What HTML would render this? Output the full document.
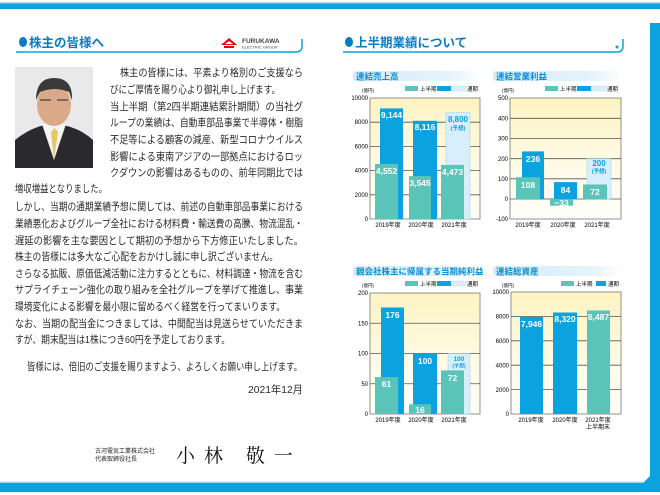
<!DOCTYPE html>
<html><head><meta charset="utf-8">
<style>
body{margin:0;width:660px;height:495px;overflow:hidden;background:#fff;position:relative;font-family:"Liberation Sans","Noto Sans CJK JP",sans-serif;color:#222}
svg{position:absolute;left:0;top:0}
</style></head><body>
<svg width="660" height="495" viewBox="0 0 660 495" font-family="Liberation Sans, Noto Sans CJK JP, sans-serif">
<defs>
<linearGradient id="yb" x1="0" y1="0" x2="0" y2="1"><stop offset="0" stop-color="#fdf3c2"/><stop offset="0.6" stop-color="#fefbe8"/><stop offset="1" stop-color="#fffef8"/></linearGradient>
<linearGradient id="tb" x1="0" y1="0" x2="1" y2="0"><stop offset="0" stop-color="#d3ebf8"/><stop offset="0.8" stop-color="#e6f4fb"/><stop offset="1" stop-color="#fff"/></linearGradient>
</defs>
<!-- frame -->
<rect x="0" y="3" width="660" height="6" fill="#0aa3e0"/>
<rect x="0" y="2" width="660" height="1.5" fill="#9fd8f2"/>
<rect x="650" y="23" width="10" height="462" fill="#0aa3e0"/>
<path d="M0 483 L643 483 L650 476 L650 483 L660 483 L660 492 L0 492Z" fill="#0aa3e0"/>
<rect x="0" y="481.5" width="643" height="1.5" fill="#9fd8f2"/>
<!-- headers -->
<path d="M16 52 L296 52 Q302 52 302 46 L302 39" stroke="#0aa3e0" stroke-width="1.5" fill="none"/>
<path d="M343 52 L617 52 Q623 52 623 46 L623 39" stroke="#0aa3e0" stroke-width="1.5" fill="none"/>
<ellipse cx="23" cy="42" rx="4" ry="5" fill="#0a7cc4"/>
<ellipse cx="349" cy="42" rx="4" ry="5" fill="#0a7cc4"/>
<circle cx="617" cy="47" r="1.5" fill="#0aa3e0"/>
<text x="29" y="47" font-size="12.5" font-weight="bold" fill="#0a7cc4">株主の皆様へ</text>
<text x="355" y="47" font-size="12.5" font-weight="bold" fill="#0a7cc4">上半期業績について</text>
<!-- logo -->
<path d="M221 45 L229 38 L237 45 Z M224 46 h10 v2 h-10z" fill="#e60012"/>
<path d="M225 44 L229 41 L233 44Z" fill="#fff"/>
<text x="242" y="43" font-size="6.5" font-weight="bold" fill="#444">FURUKAWA</text>
<text x="242" y="48.5" font-size="4" fill="#444">ELECTRIC GROUP</text>
<!-- photo -->
<rect x="15" y="67" width="78" height="101" fill="#e9e9e9"/>
<path d="M15 140 Q30 128 45 125 L62 125 Q80 128 93 140 L93 168 L15 168Z" fill="#2a2a2e"/>
<path d="M42 124 L54 160 L66 124Z" fill="#f4f4f4"/>
<path d="M51 132 L54 160 L58 132 L55 128Z" fill="#e8c860"/>
<ellipse cx="54" cy="105" rx="17" ry="21" fill="#d9a98a"/>
<path d="M36 100 Q36 78 54 78 Q73 78 72 100 L69 92 Q55 86 40 92Z" fill="#3a3a3a"/>
<path d="M40 100 h11 M57 100 h11" stroke="#555" stroke-width="1.5"/>

<!-- body text -->
<g font-size="10.5" fill="#2a2a2a" lengthAdjust="spacingAndGlyphs">
<text x="120" y="76" textLength="183" lengthAdjust="spacingAndGlyphs">株主の皆様には、平素より格別のご支援なら</text>
<text x="110" y="93" textLength="170" lengthAdjust="spacingAndGlyphs">びにご厚情を賜り心より御礼申し上げます。</text>
<text x="110" y="110" textLength="193" lengthAdjust="spacingAndGlyphs">当上半期（第2四半期連結累計期間）の当社グ</text>
<text x="110" y="126" textLength="193" lengthAdjust="spacingAndGlyphs">ループの業績は、自動車部品事業で半導体・樹脂</text>
<text x="110" y="143" textLength="193" lengthAdjust="spacingAndGlyphs">不足等による顧客の減産、新型コロナウイルス</text>
<text x="110" y="160" textLength="193" lengthAdjust="spacingAndGlyphs">影響による東南アジアの一部拠点におけるロッ</text>
<text x="110" y="176" textLength="193" lengthAdjust="spacingAndGlyphs">クダウンの影響はあるものの、前年同期比では</text>
<text x="15" y="192" textLength="92" lengthAdjust="spacingAndGlyphs">増収増益となりました。</text>
<text x="15" y="210" textLength="288" lengthAdjust="spacingAndGlyphs">しかし、当期の通期業績予想に関しては、前述の自動車部品事業における</text>
<text x="15" y="227" textLength="288" lengthAdjust="spacingAndGlyphs">業績悪化およびグループ全社における材料費・輸送費の高騰、物流混乱・</text>
<text x="15" y="244" textLength="288" lengthAdjust="spacingAndGlyphs">遅延の影響を主な要因として期初の予想から下方修正いたしました。</text>
<text x="15" y="260" textLength="263" lengthAdjust="spacingAndGlyphs">株主の皆様には多大なご心配をおかけし誠に申し訳ございません。</text>
<text x="15" y="277" textLength="288" lengthAdjust="spacingAndGlyphs">さらなる拡販、原価低減活動に注力するとともに、材料調達・物流を含む</text>
<text x="15" y="293" textLength="288" lengthAdjust="spacingAndGlyphs">サプライチェーン強化の取り組みを全社グループを挙げて推進し、事業</text>
<text x="15" y="310" textLength="270" lengthAdjust="spacingAndGlyphs">環境変化による影響を最小限に留めるべく経営を行ってまいります。</text>
<text x="15" y="327" textLength="288" lengthAdjust="spacingAndGlyphs">なお、当期の配当金につきましては、中間配当は見送らせていただきま</text>
<text x="15" y="343" textLength="215" lengthAdjust="spacingAndGlyphs">すが、期末配当は1株につき60円を予定しております。</text>
<text x="27" y="370" textLength="275" lengthAdjust="spacingAndGlyphs">皆様には、倍旧のご支援を賜りますよう、よろしくお願い申し上げます。</text>
<text x="248" y="393" textLength="55" lengthAdjust="spacingAndGlyphs">2021年12月</text>
</g>

<!-- signature -->
<text x="95" y="453" font-size="6" fill="#222">古河電気工業株式会社</text>
<text x="95" y="461" font-size="6" fill="#222">代表取締役社長</text>
<text x="176" y="462" font-size="19" font-family="Liberation Serif, Noto Serif CJK SC, serif" fill="#111" letter-spacing="9">小林 敬一</text>

<!-- CHART 1 -->
<rect x="353" y="71" width="127" height="10" rx="3" fill="url(#tb)"/>
<text x="356" y="79.5" font-size="8.5" font-weight="bold" fill="#0a8fd4">連結売上高</text>
<rect x="405" y="86" width="13" height="5" fill="#5bc4b8"/><text x="420" y="91" font-size="5.5">上半期</text>
<rect x="437" y="86" width="14" height="5" fill="#0aa3e0"/><rect x="451" y="86" width="15" height="5" fill="#d8eefb" stroke="#8fd0f0" stroke-width="0.5" stroke-dasharray="1,1"/><text x="467" y="91" font-size="5.5">通期</text>
<text x="362" y="92" font-size="4.5">(億円)</text>
<rect x="370" y="98" width="110" height="121" fill="url(#yb)" stroke="#777" stroke-width="0.8"/>
<g stroke="#555" stroke-width="0.8"><line x1="370" x2="480" y1="122.2" y2="122.2"/><line x1="370" x2="480" y1="146.4" y2="146.4"/><line x1="370" x2="480" y1="170.6" y2="170.6"/><line x1="370" x2="480" y1="194.8" y2="194.8"/></g>
<g font-size="6" text-anchor="end"><text x="368" y="100">10000</text><text x="368" y="124">8000</text><text x="368" y="148.5">6000</text><text x="368" y="172.5">4000</text><text x="368" y="197">2000</text><text x="368" y="221">0</text></g>
<rect x="380" y="108.4" width="23" height="110.6" fill="#0aa3e0"/><rect x="375" y="163.9" width="23" height="55.1" fill="#5bc4b8"/>
<rect x="413" y="120.8" width="24" height="98.2" fill="#0aa3e0"/><rect x="409" y="176.1" width="22" height="42.9" fill="#5bc4b8"/>
<rect x="446" y="112.5" width="24" height="106.5" fill="#d8eefb" stroke="#8fd0f0" stroke-width="0.8" stroke-dasharray="1.5,1"/><rect x="441" y="164.9" width="23" height="54.1" fill="#5bc4b8"/>
<g font-size="8.5" font-weight="bold" fill="#fff" text-anchor="middle"><text x="391.5" y="118">9,144</text><text x="386.5" y="174">4,552</text><text x="425" y="130">8,116</text><text x="420" y="186">3,545</text><text x="452.5" y="175">4,473</text></g>
<text x="458" y="122" font-size="8" font-weight="bold" fill="#0aa3e0" text-anchor="middle">8,800</text><text x="458" y="130" font-size="5.5" font-weight="bold" fill="#0aa3e0" text-anchor="middle">(予想)</text>
<g font-size="6" text-anchor="middle"><text x="388" y="227">2019年度</text><text x="421" y="227">2020年度</text><text x="454" y="227">2021年度</text></g>

<!-- CHART 2 -->
<rect x="493" y="71" width="128" height="10" rx="3" fill="url(#tb)"/>
<text x="496" y="79.5" font-size="8.5" font-weight="bold" fill="#0a8fd4">連結営業利益</text>
<rect x="545" y="86" width="13" height="5" fill="#5bc4b8"/><text x="560" y="91" font-size="5.5">上半期</text>
<rect x="577" y="86" width="14" height="5" fill="#0aa3e0"/><rect x="591" y="86" width="15" height="5" fill="#d8eefb" stroke="#8fd0f0" stroke-width="0.5" stroke-dasharray="1,1"/><text x="607" y="91" font-size="5.5">通期</text>
<text x="502" y="92" font-size="4.5">(億円)</text>
<rect x="510" y="98" width="111" height="121" fill="url(#yb)" stroke="#777" stroke-width="0.8"/>
<g stroke="#555" stroke-width="0.8"><line x1="510" x2="621" y1="118.3" y2="118.3"/><line x1="510" x2="621" y1="138.5" y2="138.5"/><line x1="510" x2="621" y1="158.7" y2="158.7"/><line x1="510" x2="621" y1="178.8" y2="178.8"/><line x1="510" x2="621" y1="199" y2="199"/></g>
<g font-size="6" text-anchor="end"><text x="508" y="100">500</text><text x="508" y="120.5">400</text><text x="508" y="140.5">300</text><text x="508" y="161">200</text><text x="508" y="181">100</text><text x="508" y="201">0</text><text x="508" y="221">-100</text></g>
<rect x="522" y="151.4" width="22" height="47.6" fill="#0aa3e0"/><rect x="516" y="177.2" width="24" height="21.8" fill="#5bc4b8"/>
<rect x="554" y="182.1" width="23" height="16.9" fill="#0aa3e0"/><rect x="550" y="199" width="23" height="6.7" fill="#5bc4b8"/>
<rect x="587" y="158.7" width="24" height="40.3" fill="#d8eefb" stroke="#8fd0f0" stroke-width="0.8" stroke-dasharray="1.5,1"/><rect x="583" y="184.5" width="24" height="14.5" fill="#5bc4b8"/>
<g font-size="8.5" font-weight="bold" fill="#fff" text-anchor="middle"><text x="533" y="162">236</text><text x="528" y="188">108</text><text x="565.5" y="193">84</text><text x="561.5" y="206">−33</text><text x="595" y="195">72</text></g>
<text x="599" y="166" font-size="8" font-weight="bold" fill="#0aa3e0" text-anchor="middle">200</text><text x="599" y="173" font-size="5.5" font-weight="bold" fill="#0aa3e0" text-anchor="middle">(予想)</text>
<g font-size="6" text-anchor="middle"><text x="528" y="227">2019年度</text><text x="563" y="227">2020年度</text><text x="597" y="227">2021年度</text></g>

<!-- CHART 3 -->
<rect x="353" y="266" width="127" height="10" rx="3" fill="url(#tb)"/>
<text x="356" y="274.5" font-size="8.5" font-weight="bold" fill="#0a8fd4">親会社株主に帰属する当期純利益</text>
<rect x="405" y="281" width="13" height="5" fill="#5bc4b8"/><text x="420" y="286" font-size="5.5">上半期</text>
<rect x="437" y="281" width="14" height="5" fill="#0aa3e0"/><rect x="451" y="281" width="15" height="5" fill="#d8eefb" stroke="#8fd0f0" stroke-width="0.5" stroke-dasharray="1,1"/><text x="467" y="286" font-size="5.5">通期</text>
<text x="362" y="287" font-size="4.5">(億円)</text>
<rect x="370" y="293" width="110" height="121" fill="url(#yb)" stroke="#777" stroke-width="0.8"/>
<g stroke="#555" stroke-width="0.8"><line x1="370" x2="480" y1="323.25" y2="323.25"/><line x1="370" x2="480" y1="353.5" y2="353.5"/><line x1="370" x2="480" y1="383.75" y2="383.75"/></g>
<g font-size="6" text-anchor="end"><text x="368" y="295">200</text><text x="368" y="325.5">150</text><text x="368" y="355.5">100</text><text x="368" y="386">50</text><text x="368" y="416">0</text></g>
<rect x="381" y="307.5" width="23" height="106.5" fill="#0aa3e0"/><rect x="375" y="377.1" width="23" height="36.9" fill="#5bc4b8"/>
<rect x="413" y="353.5" width="24" height="60.5" fill="#0aa3e0"/><rect x="409" y="404.3" width="22" height="9.7" fill="#5bc4b8"/>
<rect x="448" y="353.5" width="22" height="60.5" fill="#d8eefb" stroke="#8fd0f0" stroke-width="0.8" stroke-dasharray="1.5,1"/><rect x="441" y="370.4" width="23" height="43.6" fill="#5bc4b8"/>
<g font-size="8.5" font-weight="bold" fill="#fff" text-anchor="middle"><text x="392.5" y="318">176</text><text x="386.5" y="387">61</text><text x="425" y="364">100</text><text x="420" y="413">16</text><text x="452.5" y="381">72</text></g>
<text x="459" y="361" font-size="6.5" font-weight="bold" fill="#0aa3e0" text-anchor="middle">100</text><text x="459" y="367.5" font-size="5" font-weight="bold" fill="#0aa3e0" text-anchor="middle">(予想)</text>
<g font-size="6" text-anchor="middle"><text x="388" y="422">2019年度</text><text x="421" y="422">2020年度</text><text x="454" y="422">2021年度</text></g>

<!-- CHART 4 -->
<rect x="493" y="266" width="128" height="10" rx="3" fill="url(#tb)"/>
<text x="496" y="274.5" font-size="8.5" font-weight="bold" fill="#0a8fd4">連結総資産</text>
<rect x="561" y="281" width="13" height="5" fill="#5bc4b8"/><text x="576" y="286" font-size="5.5">上半期</text>
<rect x="596" y="281" width="10" height="5" fill="#0aa3e0"/><text x="608" y="286" font-size="5.5">通期</text>
<text x="502" y="287" font-size="4.5">(億円)</text>
<rect x="511" y="292" width="110" height="122" fill="url(#yb)" stroke="#777" stroke-width="0.8"/>
<g stroke="#555" stroke-width="0.8"><line x1="511" x2="621" y1="316.4" y2="316.4"/><line x1="511" x2="621" y1="340.8" y2="340.8"/><line x1="511" x2="621" y1="365.2" y2="365.2"/><line x1="511" x2="621" y1="389.6" y2="389.6"/></g>
<g font-size="6" text-anchor="end"><text x="509" y="294">10000</text><text x="509" y="318.5">8000</text><text x="509" y="343">6000</text><text x="509" y="367.5">4000</text><text x="509" y="392">2000</text><text x="509" y="416">0</text></g>
<rect x="520" y="317" width="23" height="97" fill="#0aa3e0"/>
<rect x="553" y="312.5" width="24" height="101.5" fill="#0aa3e0"/>
<rect x="587" y="310.5" width="23" height="103.5" fill="#5bc4b8"/>
<g font-size="8.5" font-weight="bold" fill="#fff" text-anchor="middle"><text x="531.5" y="327">7,946</text><text x="565" y="322">8,320</text><text x="598.5" y="320">8,487</text></g>
<g font-size="6" text-anchor="middle"><text x="531" y="422">2019年度</text><text x="565" y="422">2020年度</text><text x="598" y="422">2021年度</text><text x="598" y="429">上半期末</text></g>
</svg>
</body></html>
